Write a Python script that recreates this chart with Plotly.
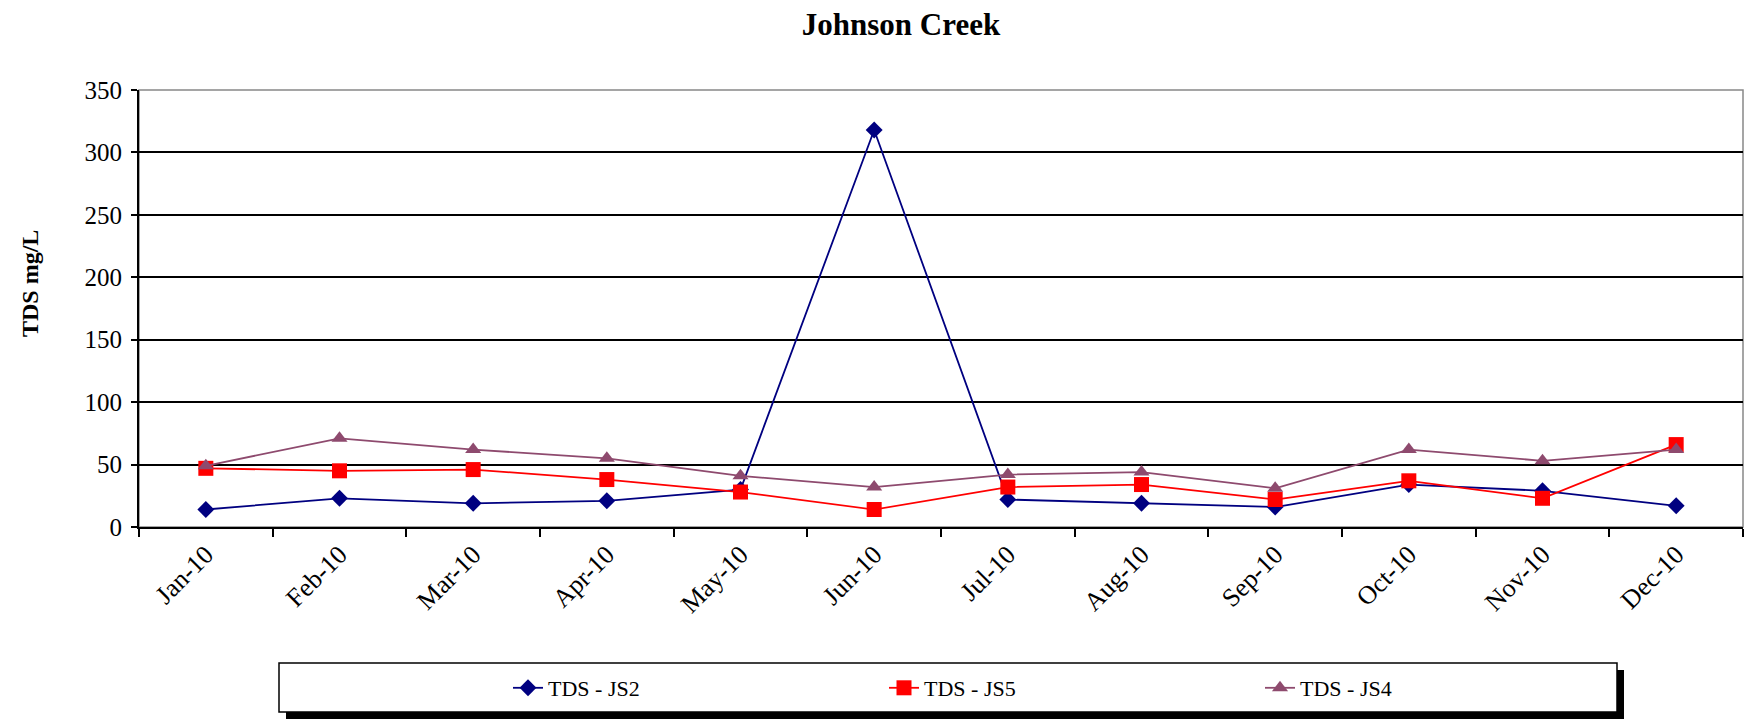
import plotly.graph_objects as go

months = ["Jan-10", "Feb-10", "Mar-10", "Apr-10", "May-10", "Jun-10",
          "Jul-10", "Aug-10", "Sep-10", "Oct-10", "Nov-10", "Dec-10"]
tds_js2 = [14, 23, 19, 21, 30, 318, 22, 19, 16, 34, 29, 17]
tds_js5 = [47, 45, 46, 38, 28, 14, 32, 34, 22, 37, 23, 66]
tds_js4 = [49, 71, 62, 55, 41, 32, 42, 44, 31, 62, 53, 62]
y_ticks = [0, 50, 100, 150, 200, 250, 300, 350]

FONT = "Liberation Serif, Times New Roman, serif"
W, H = 1748, 720
L, R, T, B = 139, 1743, 90, 527
pw, ph = R - L, B - T

def px(x):
    return (x - L) / pw

def py(y):
    return (B - y) / ph

fig = go.Figure()
fig.add_trace(go.Scatter(x=months, y=tds_js2, name="TDS - JS2", mode="lines+markers",
                         line=dict(color="#000080", width=1.8),
                         marker=dict(symbol="diamond", size=13, color="#000080")))
fig.add_trace(go.Scatter(x=months, y=tds_js5, name="TDS - JS5", mode="lines+markers",
                         line=dict(color="#FF0000", width=1.8),
                         marker=dict(symbol="square", size=15, color="#FF0000")))
fig.add_trace(go.Scatter(x=months, y=tds_js4, name="TDS - JS4", mode="lines+markers",
                         line=dict(color="#8E4A6E", width=1.8),
                         marker=dict(symbol="triangle-up", size=14, color="#8E4A6E")))

shapes = [
    # plot frame (gray top/right)
    dict(type="rect", xref="paper", yref="paper", x0=0, x1=1, y0=0, y1=1,
         line=dict(color="#888888", width=1.5), layer="below"),
    # legend shadow
    dict(type="rect", xref="paper", yref="paper",
         x0=px(286), x1=px(1624), y0=py(719), y1=py(670),
         fillcolor="black", line=dict(width=0)),
    # legend box
    dict(type="rect", xref="paper", yref="paper",
         x0=px(279), x1=px(1617), y0=py(712), y1=py(663),
         fillcolor="white", line=dict(color="black", width=1.5)),
]

fig.update_layout(
    width=W, height=H,
    margin=dict(l=L, r=W - R, t=T, b=H - B, autoexpand=False),
    paper_bgcolor="white", plot_bgcolor="white",
    font=dict(family=FONT, color="black", size=22),
    title=dict(text="<b>Johnson Creek</b>", x=901 / W, y=1 - 24 / H,
               xanchor="center", yanchor="middle",
               font=dict(family=FONT, size=31, color="black")),
    showlegend=True,
    legend=dict(orientation="h", x=px(508), xanchor="left",
                y=py(688), yanchor="middle",
                entrywidth=331, entrywidthmode="pixels",
                bgcolor="rgba(0,0,0,0)", borderwidth=0,
                font=dict(family=FONT, size=22, color="black")),
    shapes=shapes,
    xaxis=dict(type="category", tickson="boundaries", ticks="outside", ticklen=8,
               tickwidth=1.5, tickcolor="black",
               showline=True, linecolor="black", linewidth=2,
               showgrid=False, tickangle=-45,
               tickfont=dict(family=FONT, size=26, color="black"),
               range=[-0.5, 11.5], fixedrange=True),
    yaxis=dict(range=[0, 350], tickvals=y_ticks, ticks="outside", ticklen=6,
               tickwidth=1.5, tickcolor="black",
               showline=True, linecolor="black", linewidth=2,
               showgrid=True, gridcolor="black", gridwidth=1.5,
               zeroline=False, ticklabelstandoff=4,
               tickfont=dict(family=FONT, size=25, color="black")),
    annotations=[dict(text="<b>TDS mg/L</b>", xref="paper", yref="paper",
                      x=px(30), y=py(284), textangle=-90, showarrow=False,
                      xanchor="center", yanchor="middle",
                      font=dict(family=FONT, size=24, color="black"))],
)

fig.write_html("out.html")
